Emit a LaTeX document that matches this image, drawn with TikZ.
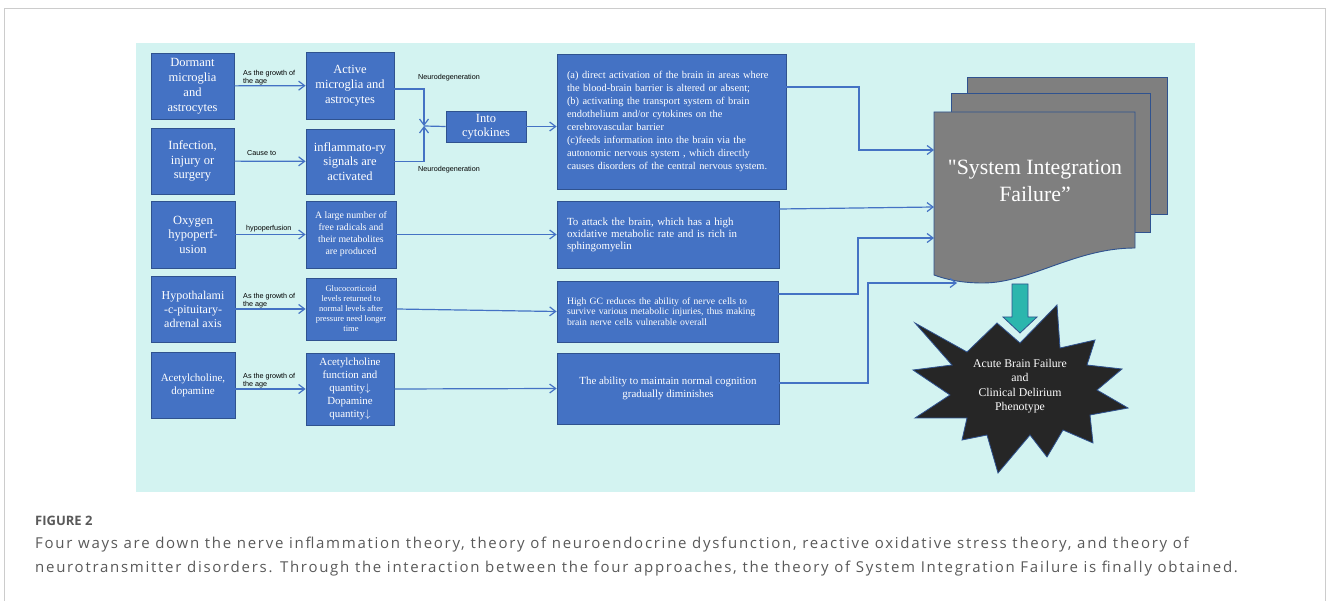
\documentclass[tikz,border=0pt]{standalone}
\usepackage{fontspec}
\setmainfont{Liberation Serif}
\setsansfont{Liberation Sans}
\newfontfamily\capfont{Open Sans}
\newfontfamily\captextfont[LetterSpace=11.5]{Open Sans}
\newfontfamily\siffont[Ligatures=TeXOff]{Liberation Serif}
\usetikzlibrary{arrows.meta,positioning}
\definecolor{boxblue}{HTML}{4472C4}
\definecolor{boxline}{HTML}{2F528F}
\definecolor{bgteal}{HTML}{D3F3F1}
\definecolor{docgray}{HTML}{7F7F7F}
\definecolor{starblack}{HTML}{262626}
\definecolor{arrowteal}{HTML}{2BB6AD}
\definecolor{capgray}{HTML}{595959}
\definecolor{framegray}{HTML}{CCCCCC}
\newcommand{\fsz}[2]{\fontsize{#1}{#2}\selectfont}

\begin{document}
\begin{tikzpicture}[x=1pt, y=-1pt,
  box/.style = {draw=boxline, fill=boxblue, text=white, align=center, line width=0.8pt, inner sep=1pt},
  wide/.style = {box, align=left, inner xsep=10pt, inner ysep=1pt},
  lbl/.style = {font=\sffamily\fsz{7.2}{8.5}, align=left, anchor=north west, inner sep=0pt},
  link/.style = {draw=boxblue, line width=1.2pt, -{Straight Barb[length=6pt,width=9pt]}},
  doc/.style = {draw=boxline, fill=docgray, line width=0.9pt}]

\useasboundingbox (0,0) rectangle (1328,601);
\fill[bgteal] (136,43) rectangle (1195,492);
\draw[framegray, line width=1pt] (4,601) -- (4,9) -- (1325,9) -- (1325,601);

% first column
\node[box, minimum width=83pt, minimum height=66pt, font=\fsz{12.5}{15}] (1) at (192.5,86) {Dormant\\microglia\\and\\astrocytes};
\node[box, minimum width=83pt, minimum height=66pt, font=\fsz{12.5}{14.5}] (3) at (192.5,161) {Infection,\\injury or\\surgery};
\node[box, minimum width=84pt, minimum height=67pt, font=\fsz{12.5}{14.5}] (7) at (193,234.5) {Oxygen\\hypoperf-\\usion};
\node[box, minimum width=84pt, minimum height=66pt, font=\fsz{12}{14}] (10) at (193,309) {Hypothalami\\-c-pituitary-\\adrenal axis};
\node[box, minimum width=84pt, minimum height=66pt, font=\fsz{11}{13}] (13) at (193,385) {Acetylcholine,\\dopamine};

% second column
\node[box, minimum width=88pt, minimum height=67pt, font=\fsz{12.5}{15}] (2) at (350,85.5) {Active\\microglia and\\astrocytes};
\node[box, minimum width=88pt, minimum height=65pt, font=\fsz{12.5}{14.5}] (4) at (350,161.5) {inflammato-ry\\signals are\\activated};
\node[box, minimum width=90pt, minimum height=67pt, font=\fsz{9.8}{12}] (8) at (351,234.5) {A large number of\\free radicals and\\their metabolites\\are produced};
\node[box, minimum width=90pt, minimum height=62pt, font=\fsz{8.5}{10}] (11) at (351,309) {Glucocorticoid\\levels returned to\\normal levels after\\pressure need longer\\time};
\node[box, minimum width=88pt, minimum height=72pt, font=\fsz{10.9}{13}] (14) at (350,389) {Acetylcholine\\function and\\quantity$\downarrow$\\Dopamine\\quantity$\downarrow$};
\node[box, minimum width=80pt, minimum height=31pt, font=\fsz{12.5}{14}] (5) at (486,126.5) {Into\\cytokines};

% third column
\node[wide, text width=209pt, minimum height=135pt, font=\fsz{10.4}{13}] (6) at (671.5,121.5) {(a) direct activation of the brain in areas where\\the blood-brain barrier is altered or absent;\\(b) activating the transport system of brain\\endothelium and/or cytokines on the\\cerebrovascular barrier\\(c)feeds information into the brain via the\\autonomic nervous system , which directly\\causes disorders of the central nervous system.};
\node[wide, text width=202pt, minimum height=67pt, font=\fsz{10.9}{12}] (9) at (668,234.5) {To attack the brain, which has a high\\oxidative metabolic rate and is rich in\\sphingomyelin};
\node[wide, text width=201pt, minimum height=61pt, font=\fsz{9.7}{10.5}] (12) at (667.5,311.5) {High GC reduces the ability of nerve cells to\\survive various metabolic injuries, thus making\\brain nerve cells vulnerable overall};
\node[box, minimum width=222pt, minimum height=71pt, font=\fsz{10.9}{13}] (15) at (668,388.5) {The ability to maintain normal cognition\\gradually diminishes};

% arrow labels
\node[lbl] (l1) at (243,70) {As the growth of\\the age};
\node[lbl] (l2) at (247,150.5) {Cause to};
\node[lbl] (l3) at (246,225.5) {hypoperfusion};
\node[lbl] (l4) at (243,293) {As the growth of\\the age};
\node[lbl] (l5) at (243,373) {As the growth of\\the age};
\node[lbl] (l6) at (418,74.5) {Neurodegeneration};
\node[lbl] (l7) at (418,166.5) {Neurodegeneration};

% system integration failure
\draw[doc] (967,77) rectangle (1167,214);
\draw[doc] (951,93) rectangle (1150,232);
\draw[doc] (934,112) -- (1135,112) -- (1135,248) .. controls (1075,248) and (1030,283) .. (983,283) .. controls (960,283) and (945,279) .. (934,275) -- cycle;
\node[text=white, font=\siffont\fsz{21.8}{27}, align=center] (sif) at (1035,181) {"System Integration\\Failure”};
\coordinate (s1) at (934,150);
\coordinate (s2) at (934,207);
\coordinate (s3) at (934,238);
\coordinate (s4) at (957,283);

% acute brain failure
\draw[fill=arrowteal, draw=boxline, line width=0.8pt] (1012,284) -- (1028,284) -- (1028,317) -- (1037,317) -- (1020,333) -- (1003,317) -- (1012,317) -- cycle;
\draw[fill=starblack, draw=boxline, line width=0.8pt] (915,323) -- (967,352) -- (997,323) -- (1020,343) -- (1057,305) -- (1060,348) -- (1095,340) -- (1087,365) -- (1122,369) -- (1097,390) -- (1128,408) -- (1090,415) -- (1093,443) -- (1063,430) -- (1047,457) -- (1030,435) -- (998,473) -- (987,435) -- (962,440) -- (967,418) -- (915,418) -- (950,395) -- (913,370) -- (952,365) -- cycle;
\node[text=white, font=\fsz{11.8}{14.5}, align=center] (abf) at (1020,386) {Acute Brain Failure\\and\\Clinical Delirium\\Phenotype};

% connectors
\draw[link] (1) -- (2);
\draw[link] (3) -- (4);
\draw[link] (7) -- (8);
\draw[link] (10) -- (11);
\draw[link] (13.east |- 14.west) -- (14.west);
\coordinate (j) at (424,126);
\draw[link] (2.east |- 0,89) -| (j);
\draw[link] (4.east) -| (j);
\draw[draw=boxblue, line width=1.2pt] (j) -- (5.west);
\draw[link] (5.east) -- (5.east -| 6.west);
\draw[link] (8) -- (9);
\draw[link] (11.east) -- (12.west);
\draw[link] (14.east) -- (15.west);
\draw[link] (6.east |- 0,87) -- (859,87) |- (s1);
\draw[link] (9.east |- 0,209) -- (s2);
\draw[link] (12.east |- 0,294) -- (858,294) |- (s3);
\draw[link] (15.east |- 0,383) -- (868,383) |- (s4);

% caption
\node[anchor=base west, inner sep=0pt, text=capgray, font=\capfont\bfseries\fsz{13}{15}] (fig) at (35,525) {FIGURE 2};
\node[anchor=base west, inner sep=0pt, text=capgray, font=\captextfont\fsz{15}{17}] (cap1) at (35,548) {Four ways are down the nerve inflammation theory, theory of neuroendocrine dysfunction, reactive oxidative stress theory, and theory of};
\node[anchor=base west, inner sep=0pt, text=capgray, font=\captextfont\fsz{15}{17}] (cap2) at (35,572) {neurotransmitter disorders. Through the interaction between the four approaches, the theory of System Integration Failure is finally obtained.};
\end{tikzpicture}
\end{document}
